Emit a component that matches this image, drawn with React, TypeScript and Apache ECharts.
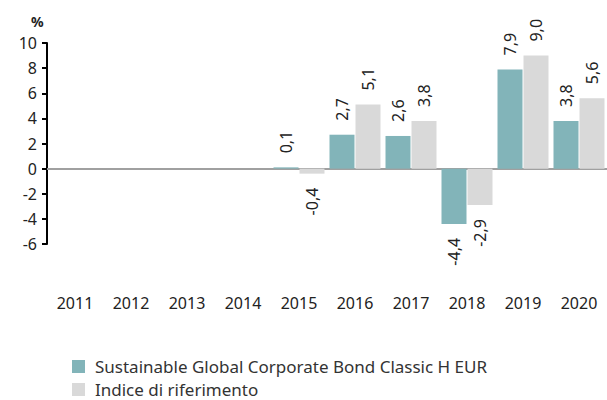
import React, { useEffect, useRef } from "react";
import * as echarts from "echarts";

const years = ["2011", "2012", "2013", "2014", "2015", "2016", "2017", "2018", "2019", "2020"];
const fundValues: (number | null)[] = [null, null, null, null, 0.1, 2.7, 2.6, -4.4, 7.9, 3.8];
const indexValues: (number | null)[] = [null, null, null, null, -0.4, 5.1, 3.8, -2.9, 9.0, 5.6];
const seriesNames = ["Sustainable Global Corporate Bond Classic H EUR", "Indice di riferimento"];
const colors = ["#82b4b9", "#d9d9d9"];
const FONT = "Noto Sans";

function toItems(vals: (number | null)[]) {
  return vals.map((v) => {
    if (v === null) return null;
    const neg = v < 0;
    return {
      value: v,
      label: {
        show: true,
        position: neg ? "bottom" : "top",
        rotate: 90,
        align: neg ? "right" : "left",
        verticalAlign: "middle",
        distance: 14,
        formatter: (p: any) => Number(p.value).toFixed(1).replace(".", ","),
        fontFamily: FONT,
        fontSize: 16,
        color: "#222",
      },
    };
  });
}

export default function App() {
  const ref = useRef<HTMLDivElement>(null);
  useEffect(() => {
    if (!ref.current) return;
    const chart = echarts.init(ref.current, undefined, { renderer: "svg" });
    chart.setOption({
      animation: false,
      grid: { left: 47, right: -4, top: 43, bottom: 156, containLabel: false },
      graphic: [
        {
          type: "text",
          left: 31,
          top: 14,
          style: { text: "%", fontFamily: FONT, fontSize: 14, fontWeight: "bold", fill: "#222" },
        },
      ],
      legend: {
        orient: "vertical",
        left: 72,
        top: 357,
        height: 42,
        itemWidth: 13,
        itemHeight: 13,
        itemGap: 4,
        padding: 0,
        icon: "rect",
        textStyle: { fontFamily: FONT, fontSize: 17, color: "#333", lineHeight: 19, padding: [0, 0, 0, 5] },
        data: seriesNames,
      },
      xAxis: {
        type: "category",
        data: years,
        axisLine: { show: false },
        axisTick: { show: false },
        axisLabel: { margin: 51, fontFamily: FONT, fontSize: 16, color: "#222" },
      },
      yAxis: {
        type: "value",
        min: -6,
        max: 10,
        interval: 2,
        axisLine: { show: true, lineStyle: { color: "#000", width: 2 } },
        axisTick: { show: true, length: 5, lineStyle: { color: "#000", width: 2 } },
        axisLabel: { margin: 10, fontFamily: FONT, fontSize: 16, color: "#222" },
        splitLine: { show: false },
      },
      series: [
        {
          name: seriesNames[0],
          type: "bar",
          data: toItems(fundValues),
          barWidth: 25,
          barGap: "4%",
          itemStyle: { color: colors[0] },
          markLine: {
            silent: true,
            symbol: "none",
            label: { show: false },
            lineStyle: { color: "#a0a0a0", width: 2, type: "solid" },
            data: [{ yAxis: 0 }],
            z: 1,
          },
        },
        {
          name: seriesNames[1],
          type: "bar",
          data: toItems(indexValues),
          barWidth: 25,
          itemStyle: { color: colors[1] },
        },
      ],
    });
    return () => chart.dispose();
  }, []);
  return <div ref={ref} style={{ width: 607, height: 400, position: "absolute", left: 0, top: 0 }} />;
}
